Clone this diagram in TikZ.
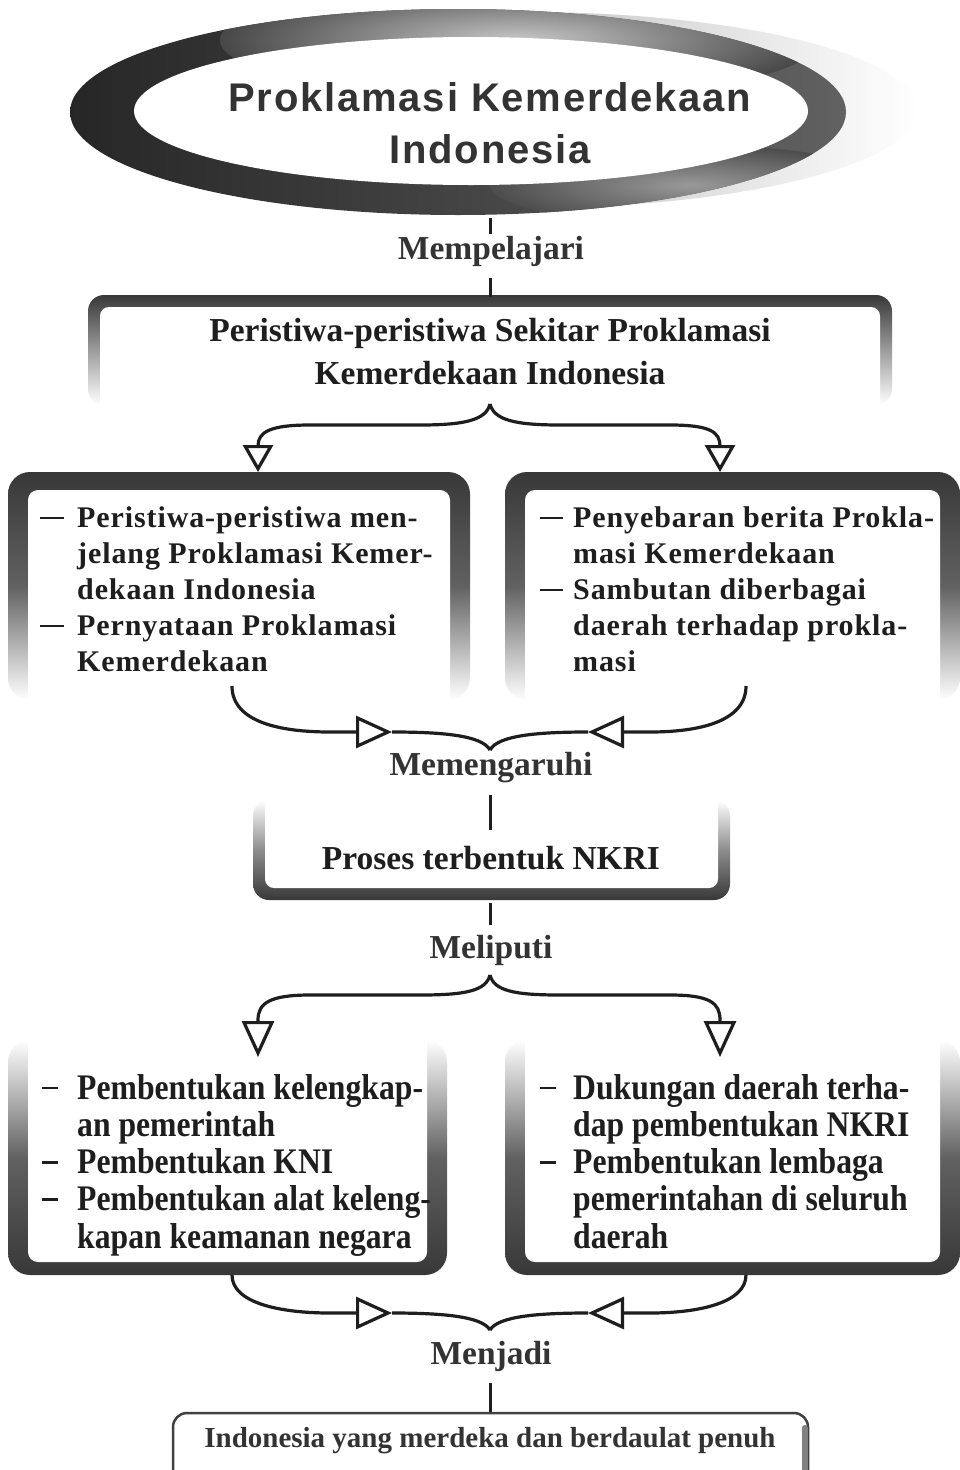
\documentclass[tikz,border=0pt]{standalone}
\usepackage{fontspec}
\setmainfont{Liberation Serif}
\newfontfamily\titlefont{Liberation Sans}[LetterSpace=4.5]
\newfontfamily\condfont{Liberation Serif}[FakeStretch=0.88]
\newfontfamily\spacedfont{Liberation Serif}[LetterSpace=3]
\usetikzlibrary{arrows.meta}
\definecolor{ink}{HTML}{1E1E1E}
\definecolor{lblc}{HTML}{333333}
\newcommand\dashA{\makebox[37pt][l]{\rule[8.5pt]{24pt}{2.4pt}}}
\newcommand\dashB{\makebox[33pt][l]{\rule[8.5pt]{23pt}{2.4pt}}}
\newcommand\dashC{\makebox[35pt][l]{\rule[10pt]{16pt}{2.6pt}}}
\newcommand\dashD{\makebox[33pt][l]{\rule[10pt]{16pt}{2.6pt}}}
\begin{document}
\begin{tikzpicture}[x=1pt,y=-1pt,
  conn/.style={draw=ink,line width=3pt},
  brace/.style={draw=ink,line width=3.2pt},
  tipA/.style={-{Triangle[open,length=27pt,width=30pt]}},
  tipB/.style={-{Triangle[open,length=36pt,width=32pt]}},
  lbl/.style={font=\fontsize{33.5}{40}\selectfont\bfseries, text=lblc, inner sep=0pt},
  hdtext/.style={font=\fontsize{33.5}{43}\selectfont\bfseries, text=ink, align=center, inner sep=0pt},
  listA/.style={font=\spacedfont\bfseries\fontsize{30}{36}\selectfont, text=ink, inner sep=0pt, anchor=north west},
  listB/.style={font=\condfont\bfseries\fontsize{36}{37.2}\selectfont, text=ink, inner sep=0pt, anchor=north west},
  inner/.style={fill=white}
]
\useasboundingbox (0,0) rectangle (960,1470);
\fill[white] (0,0) rectangle (960,1470);

% ---------- title ellipse ----------
\shade[left color=black!45, right color=white] (525,110) ellipse [x radius=392, y radius=98];
\shade[left color=black!85, right color=black!62] (458,112) ellipse [x radius=388, y radius=103];
\begin{scope}
  \clip (458,112) ellipse [x radius=388, y radius=103];
  \shade[inner color=black!22, outer color=black!72] (520,40) ellipse [x radius=300, y radius=60];
  \shade[inner color=black!40, outer color=black!70] (690,185) ellipse [x radius=200, y radius=40];
\end{scope}
\fill[white] (471,111) ellipse [x radius=337, y radius=74];
\node[font=\titlefont\bfseries\fontsize{40}{52}\selectfont, align=center, text=lblc, inner sep=0pt] (title) at (490,123) {Proklamasi Kemerdekaan\\Indonesia};

% ---------- box 1 (open bottom, fading sides) ----------
\shade[top color=black!78, bottom color=white, rounded corners=16pt] (88,295) rectangle (892,405);
\fill[inner, rounded corners=9pt] (100,307) rectangle (880,430);
\node[hdtext] (box1) at (490,352) {Peristiwa-peristiwa Sekitar Proklamasi\\Kemerdekaan Indonesia};

% ---------- box 2 and 3 ----------
\shade[top color=black!78, bottom color=white, middle color=black!62, rounded corners=22pt] (8,472) rectangle (470,700);
\fill[inner, rounded corners=10pt] (28,490) rectangle (450,720);
\shade[top color=black!78, bottom color=white, middle color=black!62, rounded corners=22pt] (505,472) rectangle (960,700);
\fill[inner, rounded corners=10pt] (525,490) rectangle (940,720);

\node[listA] (box2) at (40,502) {\begin{tabular}{@{}l@{}l@{}}
\dashA & Peristiwa-peristiwa men-\\
 & jelang Proklamasi Kemer-\\
 & dekaan Indonesia\\
\dashA & Pernyataan Proklamasi\\
 & Kemerdekaan
\end{tabular}};
\node[listA] (box3) at (540,502) {\begin{tabular}{@{}l@{}l@{}}
\dashB & Penyebaran berita Prokla-\\
 & masi Kemerdekaan\\
\dashB & Sambutan diberbagai\\
 & daerah terhadap prokla-\\
 & masi
\end{tabular}};

% ---------- box Proses ----------
\shade[top color=white, bottom color=black!78, middle color=black!45, rounded corners=16pt] (253,800) rectangle (730,900);
\fill[inner, rounded corners=9pt] (265,780) rectangle (718,888);
\node[hdtext] (box4) at (491,858) {Proses terbentuk NKRI};

% ---------- box 4 and 5 ----------
\shade[top color=white, bottom color=black!78, middle color=black!62, rounded corners=22pt] (8,1040) rectangle (447,1275);
\fill[inner, rounded corners=10pt] (28,1020) rectangle (427,1262);
\shade[top color=white, bottom color=black!78, middle color=black!62, rounded corners=22pt] (505,1040) rectangle (960,1275);
\fill[inner, rounded corners=10pt] (525,1020) rectangle (940,1262);

\node[listB] (box5) at (42,1073) {\begin{tabular}{@{}l@{}l@{}}
\dashC & Pembentukan kelengkap-\\
 & an pemerintah\\
\dashC & Pembentukan KNI\\
\dashC & Pembentukan alat keleng-\\
 & kapan keamanan negara
\end{tabular}};
\node[listB] (box6) at (540,1073) {\begin{tabular}{@{}l@{}l@{}}
\dashD & Dukungan daerah terha-\\
 & dap pembentukan NKRI\\
\dashD & Pembentukan lembaga\\
 & pemerintahan di seluruh\\
 & daerah
\end{tabular}};

% ---------- final box ----------
\draw[line width=2.5pt, draw=black!75, rounded corners=14pt] (173,1500) -- (173,1413) -- (808,1413) -- (808,1500);
\draw[line width=6pt, draw=black!50, line cap=round] (804.5,1428) -- (804.5,1475);
\node[font=\fontsize{29}{34}\selectfont\bfseries, text=lblc, inner sep=0pt] (final) at (490,1441) {Indonesia yang merdeka dan berdaulat penuh};

% ---------- labels ----------
\node[lbl] (l1) at (491,251) {Mempelajari};
\node[lbl] (l2) at (491,768) {Memengaruhi};
\node[lbl] (l3) at (491,950) {Meliputi};
\node[lbl] (l4) at (491,1356) {Menjadi};

% ---------- coordinates ----------
\coordinate (c1a) at (490,218); \coordinate (c1b) at (490,234);
\coordinate (c1c) at (490,278); \coordinate (c1d) at (490,297);
\coordinate (cusp1) at (490,404);
\coordinate (a1l) at (258,472); \coordinate (a1r) at (720,472);
\coordinate (s2l) at (232,686); \coordinate (s2r) at (746,686);
\coordinate (m2l) at (392,732); \coordinate (m2r) at (588,732);
\coordinate (cusp2) at (490,750);
\coordinate (c2a) at (490,795); \coordinate (c2b) at (490,830);
\coordinate (c3a) at (490,903); \coordinate (c3b) at (490,925);
\coordinate (cusp3) at (490,975);
\coordinate (a3l) at (258,1057); \coordinate (a3r) at (720,1057);
\coordinate (s4l) at (232,1275); \coordinate (s4r) at (746,1275);
\coordinate (m4l) at (392,1313); \coordinate (m4r) at (588,1313);
\coordinate (cusp4) at (490,1330);
\coordinate (c4a) at (490,1383); \coordinate (c4b) at (490,1412);

% ---------- connectors ----------
\draw[conn] (c1a) -- (c1b);
\draw[conn] (c1c) -- (c1d);
\draw[conn] (c2a) -- (c2b);
\draw[conn] (c3a) -- (c3b);
\draw[conn] (c4a) -- (c4b);

% top brace
\draw[brace, tipA] (cusp1) .. controls (486,420) and (465,425) .. (420,425) -- (310,425) .. controls (270,425) and (258,432) .. (258,446) -- (a1l);
\draw[brace, tipA] (cusp1) .. controls (494,420) and (515,425) .. (560,425) -- (670,425) .. controls (710,425) and (720,432) .. (720,446) -- (a1r);

% middle brace (Memengaruhi)
\draw[brace, tipB] (s2l) .. controls (232,722) and (280,732) .. (330,732) -- (m2l);
\draw[brace] (m2l) .. controls (440,732) and (482,735) .. (cusp2);
\draw[brace, tipB] (s2r) .. controls (746,722) and (698,732) .. (650,732) -- (m2r);
\draw[brace] (m2r) .. controls (540,732) and (498,735) .. (cusp2);

% Meliputi brace
\draw[brace, tipB] (cusp3) .. controls (486,991) and (465,995) .. (420,995) -- (310,995) .. controls (270,995) and (258,1003) .. (258,1020) -- (a3l);
\draw[brace, tipB] (cusp3) .. controls (494,991) and (515,995) .. (560,995) -- (670,995) .. controls (710,995) and (720,1003) .. (720,1020) -- (a3r);

% bottom brace (Menjadi)
\draw[brace, tipB] (s4l) .. controls (232,1303) and (280,1313) .. (330,1313) -- (m4l);
\draw[brace] (m4l) .. controls (440,1313) and (482,1316) .. (cusp4);
\draw[brace, tipB] (s4r) .. controls (746,1303) and (698,1313) .. (650,1313) -- (m4r);
\draw[brace] (m4r) .. controls (540,1313) and (498,1316) .. (cusp4);
\end{tikzpicture}
\end{document}
